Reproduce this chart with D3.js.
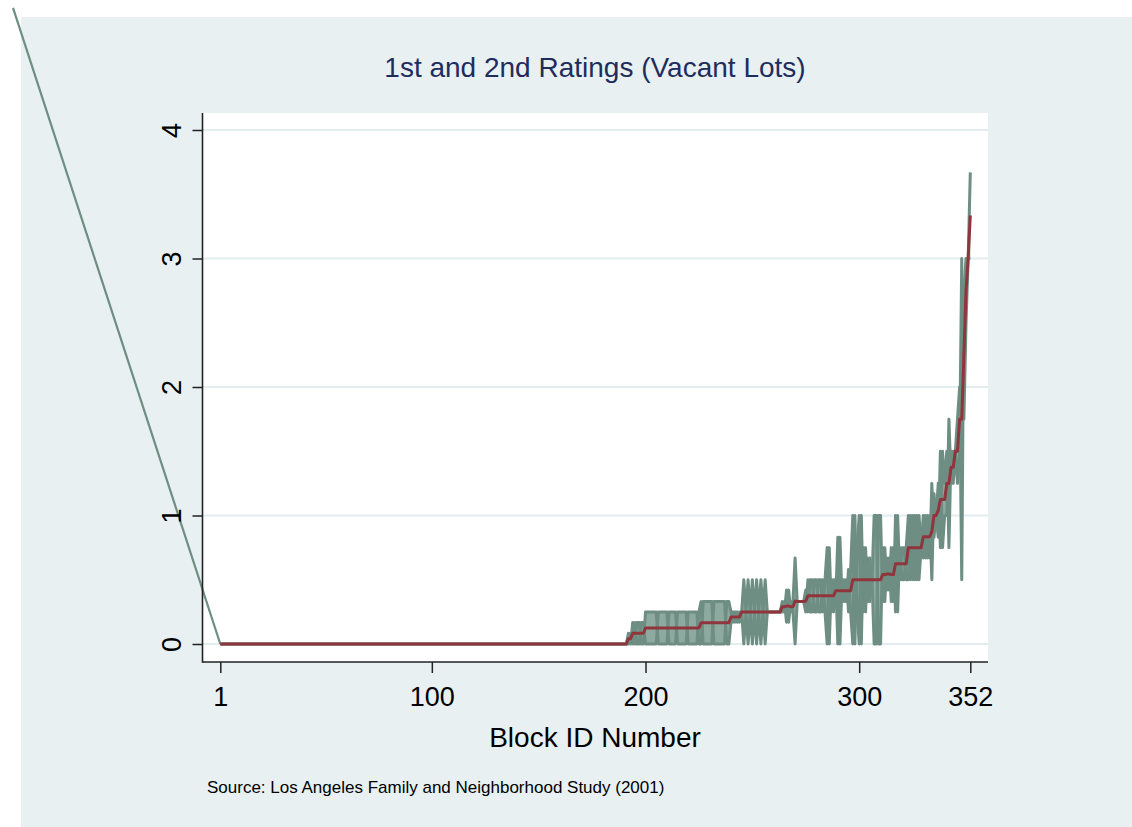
<!DOCTYPE html>
<html lang="en">
<head>
<meta charset="utf-8">
<title>1st and 2nd Ratings (Vacant Lots)</title>
<script src="https://cdn.jsdelivr.net/npm/d3@7"></script>
<style>
  body { margin: 0; background: #fff; }
  text { font-family: "Liberation Sans", Arial, sans-serif; }
</style>
</head>
<body>
<script>
// Blocks are sorted by their average rating, so IDs run 1..352
// Blocks 1-191: both raters gave 0
var noRating = [
  0,0,0,0,0, 0,0,0,0,0, 0,0,0,0,0, 0,0,0,0,0, 0,0,0,0,0,
  0,0,0,0,0, 0,0,0,0,0, 0,0,0,0,0, 0,0,0,0,0, 0,0,0,0,0,
  0,0,0,0,0, 0,0,0,0,0, 0,0,0,0,0, 0,0,0,0,0, 0,0,0,0,0,
  0,0,0,0,0, 0,0,0,0,0, 0,0,0,0,0, 0,0,0,0,0, 0,0,0,0,0,
  0,0,0,0,0, 0,0,0,0,0, 0,0,0,0,0, 0,0,0,0,0, 0,0,0,0,0,
  0,0,0,0,0, 0,0,0,0,0, 0,0,0,0,0, 0,0,0,0,0, 0,0,0,0,0,
  0,0,0,0,0, 0,0,0,0,0, 0,0,0,0,0, 0,0,0,0,0, 0,0,0,0,0,
  0,0,0,0,0, 0,0,0,0,0, 0,0,0,0,0, 0
];

// blocks 192-352, first rating
var firstRating = [
  .083,0,.167,0,.167,.167,0,0,.25,                 // 192-200
  .25,.25,.25,.25,.25,0,0,0,0,0,                   // 201-210
  .25,.25,.25,.25,0,0,0,0,0,.25,                   // 211-220
  .25,.25,.25,.25,0,0,.33,.33,.33,.33,             // 221-230
  .33,0,0,0,0,0,0,.33,.33,.25,                     // 231-240
  .17,.25,.17,.25,.25,.5,.25,.5,.25,.5,            // 241-250
  .25,.5,.25,.5,.25,.5,.25,.25,.25,.25,            // 251-260
  .25,.25,.25,.33,.25,.42,.17,.33,.25,0,           // 261-270
  .33,.33,.33,.33,.42,.25,.5,.5,.25,.25,           // 271-280
  .5,.5,.25,.5,.75,0,.5,.25,.33,.83,               // 281-290
  0,.5,.33,.5,.25,.58,1,0,.75,1,                   // 291-300
  0,.75,.25,.67,.33,.5,1,1,0,0,                    // 301-310
  .75,.33,.67,.42,.75,.33,1,.25,.75,.5,            // 311-320
  .5,.75,1,.5,1,.5,1,.5,.75,1,                     // 321-330
  .67,1,.67,1.25,.83,1,1.25,.75,1.5,1.25,          // 331-340
  1.5,.75,1.5,1.25,1.5,1.25,1.5,3,1.75,2.5,        // 341-350
  3,3.67                                           // 351-352
];

// blocks 192-352, second rating
var secondRating = [
  0,.083,0,.167,0,0,.167,.167,0,                   // 192-200
  0,0,0,0,0,.25,.25,.25,.25,.25,                   // 201-210
  0,0,0,0,.25,.25,.25,.25,.25,0,                   // 211-220
  0,0,0,0,.25,.33,0,0,0,0,                         // 221-230
  0,.33,.33,.33,.33,.33,.33,0,0,.17,               // 231-240
  .25,.17,.25,.17,.25,0,.25,0,.25,0,               // 241-250
  .25,0,.25,0,.25,0,.25,.25,.25,.25,               // 251-260
  .25,.25,.25,.25,.33,.17,.42,.25,.33,.67,         // 261-270
  .33,.33,.33,.33,.25,.5,.25,.25,.5,.5,            // 271-280
  .25,.25,.5,.25,0,.75,.25,.5,.5,0,                // 281-290
  .83,.33,.5,.33,.58,.25,0,1,.25,0,                // 291-300
  1,.25,.75,.33,.67,.5,0,0,1,1,                    // 301-310
  .33,.75,.42,.67,.33,.75,.25,1,.5,.75,            // 311-320
  .75,.5,.5,1,.5,1,.5,1,.75,.67,                   // 321-330
  1,.67,1,.5,1.17,1,.83,1.5,.75,1,                 // 331-340
  1,1.75,1.25,1.5,1.5,1.75,2,.5,2.75,3,            // 341-350
  3,3                                              // 351-352
];

// the rating lines also run off to a point left of the plot
var strayPoint = [-96, 4.95];

var yTicks = [0, 1, 2, 3, 4];
var xTicks = [1, 100, 200, 300, 352];

var rating1 = noRating.concat(firstRating);
var rating2 = noRating.concat(secondRating);
var dataset = rating1.map(function(v, i) {
    return { id: i + 1, r1: v, r2: rating2[i], avg: (v + rating2[i]) / 2 };
});

var w = 1132;
var h = 827;
var plotBox = { left: 202.5, right: 988, top: 113, bottom: 662 };
var teal = "#6e8e84";
var tealFill = "#8eaaa0";
var maroon = "#90353b";

var svg = d3.select("body")
            .append("svg")
            .attr("width", w)
            .attr("height", h);

// graph region
svg.append("rect")
    .attr("x", 21).attr("y", 17)
    .attr("width", w - 21).attr("height", h - 17)
    .attr("fill", "#e8f0f2");

// plot region
svg.append("rect")
    .attr("x", plotBox.left).attr("y", plotBox.top)
    .attr("width", plotBox.right - plotBox.left)
    .attr("height", plotBox.bottom - plotBox.top)
    .attr("fill", "#ffffff");

var xScale = d3.scaleLinear()
                .domain([1, 352])
                .range([220.3, 970.3]);
var yScale = d3.scaleLinear()
                .domain([0, 4])
                .range([644, 130]);

// gridlines
svg.selectAll("line.grid")
    .data(yTicks)
    .enter()
    .append("line")
    .attr("class", "grid")
    .attr("x1", plotBox.left).attr("x2", plotBox.right)
    .attr("y1", function(d) { return yScale(d); })
    .attr("y2", function(d) { return yScale(d); })
    .attr("stroke", "#e3ecef")
    .attr("stroke-width", 2.2);

// range between the two ratings
var area = d3.area()
    .x(function(d) { return xScale(d.id); })
    .y0(function(d) { return yScale(d.r1); })
    .y1(function(d) { return yScale(d.r2); });

svg.append("path")
    .datum(dataset)
    .attr("d", area)
    .attr("fill", tealFill);

["r1", "r2"].forEach(function(key) {
    var line = d3.line()
        .x(function(d) { return xScale(d.id); })
        .y(function(d) { return yScale(d[key]); });
    svg.append("path")
        .datum(dataset)
        .attr("d", line)
        .attr("fill", "none")
        .attr("stroke", teal)
        .attr("stroke-width", 3)
        .attr("stroke-linejoin", "round");
});

// stray segment
svg.append("line")
    .attr("x1", xScale(strayPoint[0])).attr("y1", yScale(strayPoint[1]))
    .attr("x2", xScale(1)).attr("y2", yScale(0))
    .attr("stroke", teal)
    .attr("stroke-width", 2.2);

// average rating
var avgLine = d3.line()
    .x(function(d) { return xScale(d.id); })
    .y(function(d) { return yScale(d.avg); });

svg.append("path")
    .datum(dataset)
    .attr("d", avgLine)
    .attr("fill", "none")
    .attr("stroke", maroon)
    .attr("stroke-width", 3)
    .attr("stroke-linejoin", "round");

// axes
var yAxis = d3.axisLeft(yScale).tickValues(yTicks).tickFormat(d3.format("d")).tickSize(10);
var gy = svg.append("g")
    .attr("transform", "translate(" + plotBox.left + ",0)")
    .call(yAxis);
gy.select(".domain").remove();
gy.selectAll(".tick line").attr("stroke", "#222").attr("stroke-width", 1.5);
gy.selectAll(".tick text")
    .attr("x", null).attr("dy", null)
    .attr("text-anchor", "middle")
    .attr("transform", "translate(-22,0) rotate(-90)")
    .attr("font-size", 27)
    .attr("font-family", "Liberation Sans, Arial, sans-serif")
    .attr("fill", "#000");

var xAxis = d3.axisBottom(xScale).tickValues(xTicks).tickFormat(d3.format("d")).tickSize(11);
var gx = svg.append("g")
    .attr("transform", "translate(0," + plotBox.bottom + ")")
    .call(xAxis);
gx.select(".domain").remove();
gx.selectAll(".tick line").attr("stroke", "#222").attr("stroke-width", 1.5);
gx.selectAll(".tick text")
    .attr("y", 44).attr("dy", null)
    .attr("font-size", 27)
    .attr("font-family", "Liberation Sans, Arial, sans-serif")
    .attr("fill", "#000");

svg.append("line")
    .attr("x1", plotBox.left).attr("x2", plotBox.left)
    .attr("y1", plotBox.top).attr("y2", plotBox.bottom + 0.75)
    .attr("stroke", "#222").attr("stroke-width", 1.6);
svg.append("line")
    .attr("x1", plotBox.left).attr("x2", plotBox.right)
    .attr("y1", plotBox.bottom).attr("y2", plotBox.bottom)
    .attr("stroke", "#222").attr("stroke-width", 1.6);

// titles
svg.append("text")
    .attr("x", 595).attr("y", 77)
    .attr("text-anchor", "middle")
    .attr("font-size", 28)
    .attr("fill", "#1f2d5c")
    .text("1st and 2nd Ratings (Vacant Lots)");

svg.append("text")
    .attr("x", 595).attr("y", 747)
    .attr("text-anchor", "middle")
    .attr("font-size", 28)
    .attr("fill", "#000")
    .text("Block ID Number");

svg.append("text")
    .attr("x", 207).attr("y", 793)
    .attr("font-size", 17)
    .attr("fill", "#000")
    .text("Source: Los Angeles Family and Neighborhood Study (2001)");
</script>
</body>
</html>
